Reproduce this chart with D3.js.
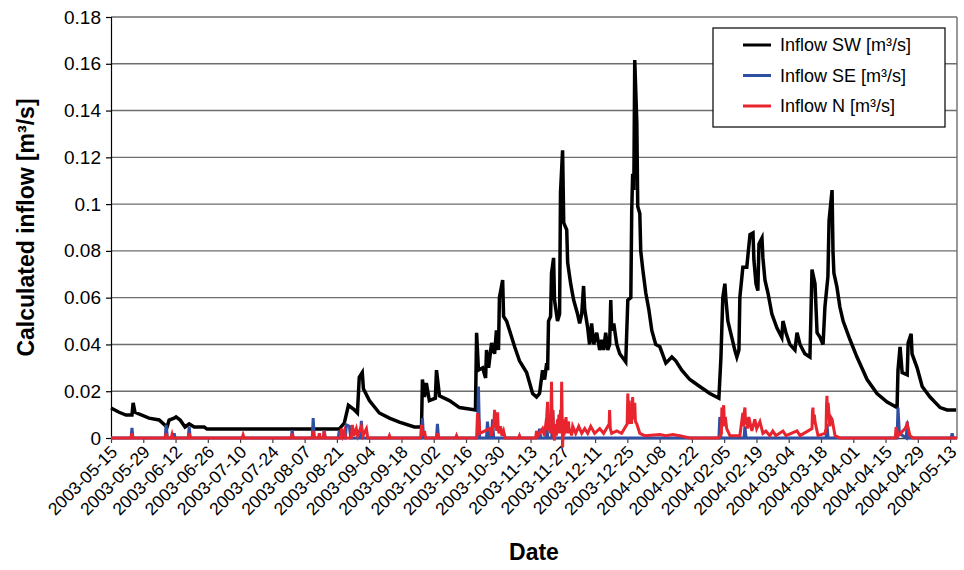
<!DOCTYPE html>
<html>
<head>
<meta charset="utf-8">
<script src="https://cdn.jsdelivr.net/npm/d3@7"></script>
<style>
html,body{margin:0;padding:0;background:#fff;}
svg{display:block;font-family:"Liberation Sans",Arial,sans-serif;}
</style>
</head>
<body>
<svg id="chart" width="964" height="570"></svg>
<script>
// ---- data ----
const startDate = "2003-05-15";
const endDate = "2004-05-16";
const xTickLabels = ["2003-05-15","2003-05-29","2003-06-12","2003-06-26","2003-07-10","2003-07-24","2003-08-07","2003-08-21","2003-09-04","2003-09-18","2003-10-02","2003-10-16","2003-10-30","2003-11-13","2003-11-27","2003-12-11","2003-12-25","2004-01-08","2004-01-22","2004-02-05","2004-02-19","2004-03-04","2004-03-18","2004-04-01","2004-04-15","2004-04-29","2004-05-13"];
const yTicks = [0,0.02,0.04,0.06,0.08,0.1,0.12,0.14,0.16,0.18];
const yTickLabels = ["0","0.02","0.04","0.06","0.08","0.1","0.12","0.14","0.16","0.18"];
const seriesNames = ["Inflow SW [m\u00b3/s]","Inflow SE [m\u00b3/s]","Inflow N [m\u00b3/s]"];

// [days since start, value m3/s]
const inflowSW = [[0,0.0128],[3.5,0.011],[6.5,0.0098],[9.1,0.0098],[9.6,0.015],[10.4,0.011],[16.5,0.0085],[20.9,0.0077],[24.3,0.0047],[25.2,0.0077],[27.4,0.0085],[28.2,0.009],[30,0.0077],[32.1,0.0047],[33.9,0.006],[36.1,0.0047],[40.4,0.0047],[41.7,0.0038],[99,0.0038],[101.2,0.0064],[103,0.014],[105.6,0.012],[106.9,0.0107],[107.7,0.026],[109,0.028],[109.5,0.021],[112.1,0.016],[116.4,0.0107],[120.8,0.0085],[125.1,0.0068],[131.6,0.0047],[134.7,0.0047],[135.1,0.025],[136,0.0175],[136.8,0.0235],[138.1,0.016],[140.7,0.017],[141.2,0.029],[142.5,0.018],[146.8,0.016],[151.2,0.013],[158.1,0.012],[158.6,0.045],[159.4,0.029],[161.2,0.03],[162.5,0.0257],[162.9,0.0376],[163.8,0.03],[165.1,0.0406],[166.4,0.036],[167.2,0.046],[168.1,0.0376],[168.5,0.06],[169.9,0.0675],[170.3,0.052],[171.6,0.05],[172.9,0.046],[175.1,0.039],[177.2,0.033],[180.3,0.028],[182.9,0.019],[184.6,0.0175],[185.9,0.019],[187.2,0.029],[188.1,0.025],[189,0.032],[189.4,0.029],[189.8,0.05],[190.7,0.052],[191.1,0.0705],[192,0.077],[192.4,0.059],[193.7,0.05],[194.6,0.053],[195,0.105],[195.9,0.123],[196.4,0.092],[197.7,0.089],[198.1,0.075],[199.4,0.066],[200.7,0.059],[202.4,0.053],[203.3,0.049],[204.2,0.053],[205,0.065],[205.5,0.055],[206.8,0.047],[207.6,0.04],[208.5,0.049],[209.4,0.04],[210.7,0.045],[212,0.0376],[212.9,0.042],[213.7,0.0376],[214.6,0.045],[215.5,0.0376],[216.3,0.04],[216.8,0.059],[217.2,0.046],[218.1,0.049],[219.4,0.04],[220.7,0.036],[223.3,0.0325],[224.2,0.059],[225.5,0.06],[225.9,0.0975],[226.3,0.113],[226.8,0.106],[227.2,0.1616],[228.1,0.135],[228.5,0.099],[229.4,0.096],[229.8,0.08],[230.7,0.072],[232,0.062],[233.3,0.055],[234.6,0.046],[236.3,0.04],[238.1,0.039],[240.7,0.032],[243.3,0.0346],[245,0.033],[247.6,0.029],[251.1,0.025],[255.4,0.022],[259.8,0.019],[263.7,0.017],[264.6,0.0346],[265.4,0.06],[266.3,0.066],[266.7,0.06],[267.6,0.05],[269.3,0.043],[270.6,0.0376],[271.5,0.0346],[272.4,0.0376],[272.8,0.06],[274.1,0.073],[275.8,0.073],[277.2,0.087],[278.5,0.0877],[278.9,0.076],[279.8,0.066],[280.6,0.063],[281.1,0.083],[282.4,0.0855],[282.8,0.077],[283.7,0.0675],[285,0.062],[286.7,0.053],[288.9,0.047],[291,0.043],[291.5,0.05],[292.8,0.045],[294.5,0.04],[296.7,0.0376],[297.6,0.045],[298.9,0.04],[301,0.036],[303.2,0.0346],[304.1,0.072],[305.4,0.066],[306.3,0.045],[307.6,0.043],[308.9,0.04],[309.7,0.056],[311,0.069],[311.5,0.093],[312.8,0.106],[313.2,0.08],[313.6,0.0705],[314.9,0.0646],[316.2,0.056],[317.6,0.05],[320.6,0.042],[323.6,0.0346],[328,0.025],[332.3,0.019],[336.7,0.0154],[341,0.013],[341.4,0.029],[342.3,0.039],[343.2,0.028],[345.4,0.027],[345.8,0.0406],[347.1,0.0445],[347.5,0.036],[349.7,0.03],[351.9,0.022],[355.3,0.0175],[359.7,0.013],[362.7,0.012],[366.6,0.012]];

const inflowSE = [[0,0],[8.7,0],[9.1,0.0043],[9.5,0],[23.5,0],[23.9,0.0056],[24.5,0],[27,0],[27.4,0.002],[27.8,0],[33.5,0],[33.9,0.0047],[34.4,0],[78.2,0],[78.6,0.0034],[79,0],[87.3,0],[87.7,0.0085],[88.2,0],[92.1,0],[92.5,0.0034],[92.9,0],[98.6,0],[99,0.003],[99.5,0],[101.7,0],[102.1,0.0056],[103.4,0.005],[104,0],[108.2,0],[108.6,0.0073],[109.1,0],[134.7,0],[135.1,0.0085],[135.6,0],[141.2,0],[141.6,0.006],[142.1,0],[159,0],[159.4,0.022],[159.9,0],[162.9,0],[163.3,0.007],[164,0],[165.1,0],[165.5,0.008],[166,0],[185.5,0],[185.9,0.004],[186.4,0],[188.6,0],[189,0.005],[189.5,0],[191.2,0],[191.6,0.012],[192.1,0],[263.7,0],[264.1,0.009],[264.6,0],[274.6,0],[275,0.005],[275.5,0],[310.2,0],[310.6,0.006],[311.1,0],[341,0],[341.4,0.013],[342,0.002],[345,0],[345.4,0.007],[345.9,0],[364.5,0],[364.9,0.002],[365.3,0],[367,0]];

const inflowN = [[0,0],[8.7,0],[9.1,0.002],[9.5,0],[23.5,0],[23.9,0.002],[24.3,0],[26.1,0],[26.5,0.0015],[26.9,0],[33.5,0],[33.9,0.002],[34.3,0],[56.9,0],[57.3,0.0013],[57.7,0],[78.2,0],[78.6,0.002],[79,0],[87.3,0],[87.7,0.003],[88.1,0],[90,0],[90.4,0.002],[90.8,0],[92.1,0],[92.5,0.003],[92.9,0],[99.5,0],[99.9,0.004],[100.5,0.001],[101.2,0.003],[101.8,0],[104.2,0],[104.7,0.0056],[105.3,0.001],[106.4,0.004],[107,0.001],[108.6,0.005],[109.3,0.001],[110.8,0.004],[111.4,0],[120.4,0],[120.8,0.001],[121.2,0],[134.3,0],[134.7,0.0056],[135.3,0.001],[136,0.003],[136.5,0],[141.2,0],[141.6,0.002],[142,0],[149.5,0],[149.9,0.001],[150.3,0],[158.6,0],[159,0.0107],[159.3,0.004],[159.6,0.008],[160,0.002],[164.2,0.004],[165,0.001],[166.1,0.006],[166.4,0.012],[166.7,0.005],[167,0.008],[167.3,0.003],[167.7,0.011],[168,0.004],[168.3,0.002],[169,0.005],[169.6,0.001],[170.3,0.003],[171,0],[176.8,0],[177.2,0.001],[177.6,0],[184.2,0],[184.6,0.003],[185.3,0.001],[187.2,0.004],[188,0.001],[189,0.009],[189.4,0.0155],[189.7,0.003],[190.3,0.006],[190.7,0.002],[191.1,0.024],[191.4,0.004],[191.7,0.012],[192,0.001],[192.4,-0.001],[192.8,0.006],[193.2,0.001],[193.7,0.008],[194,0.003],[194.3,0.01],[194.6,0.002],[195,0.012],[195.3,0.005],[195.5,0.024],[195.9,-0.004],[196.2,0.006],[196.5,0.001],[196.8,0.008],[197.1,0.003],[197.4,0.009],[197.7,0.002],[198.1,0.006],[198.5,0.007],[198.8,0.002],[199.4,0.004],[199.8,0.001],[200.3,0.005],[201.6,0.002],[202.9,0.005],[204.2,0.002],[205.5,0.004],[206.8,0.002],[208.1,0.005],[209.8,0.002],[212,0.004],[213.7,0.002],[216.1,0.006],[216.3,0.012],[216.6,0.004],[217.2,0.002],[219.4,0.003],[221.5,0.002],[223.9,0.006],[224.2,0.019],[224.5,0.006],[224.8,0.016],[225.1,0.007],[225.5,0.014],[225.8,0.006],[226.3,0.0175],[226.6,0.008],[227.2,0.015],[227.5,0.007],[228.1,0.006],[229.4,0.002],[231.5,0.001],[238.1,0.0015],[240.7,0.001],[243.7,0.0015],[246.7,0.001],[251.1,0],[263.7,0],[264.8,0.002],[265,0.013],[265.3,0.006],[265.5,0.012],[265.8,0.014],[266.1,0.005],[266.5,0.009],[267.1,0.004],[268.5,0.001],[272.8,0.001],[274.1,0.0107],[274.4,0.005],[274.7,0.011],[275,0.013],[275.3,0.006],[275.8,0.007],[276.2,0.004],[276.7,0.009],[278,0.003],[279.3,0.008],[280.1,0.004],[281.5,0.007],[282.8,0.002],[284.1,0.003],[285.8,0.001],[287.1,0.003],[288.4,0.001],[291.5,0.003],[292.8,0.001],[297.6,0.003],[298.9,0.001],[304.1,0.004],[304.3,0.011],[304.5,0.013],[304.8,0.006],[305.1,0.01],[305.4,0.007],[306.7,0.001],[309.7,0.002],[310.2,0.004],[310.4,0.014],[310.6,0.018],[310.8,0.008],[311.1,0.015],[311.5,0.01],[311.8,0.005],[312.2,0.009],[312.8,0.008],[314.1,0.001],[316.2,0],[340.2,0],[340.6,0.0047],[341.5,0.001],[344.5,0.004],[345.4,0.006],[346.6,0.001],[347.9,0],[367,0]];

// ---- layout ----
const M = {left:111, right:957, top:17, bottom:438};
const colors = ["#000000","#2f4fa2","#e8242e"];
const widths = [3.5, 3, 3];

const parse = d3.timeParse("%Y-%m-%d");
const t0 = parse(startDate);
const toDate = d => new Date(t0.getTime() + d*86400000);

const x = d3.scaleTime().domain([t0, parse(endDate)]).range([M.left, M.right]);
const y = d3.scaleLinear().domain([0, 0.18]).range([M.bottom, M.top]);

const svg = d3.select("#chart");

// gridlines
svg.append("g").selectAll("line").data(yTicks.filter(v=>v>0)).join("line")
  .attr("x1", M.left).attr("x2", M.right)
  .attr("y1", d=>y(d)).attr("y2", d=>y(d))
  .attr("stroke", "#6e6e6e").attr("stroke-width", 1.4);

// right border
svg.append("line").attr("x1", M.right).attr("x2", M.right)
  .attr("y1", M.top).attr("y2", M.bottom)
  .attr("stroke", "#6e6e6e").attr("stroke-width", 1.4);

// y axis
const yAxis = d3.axisLeft(y).tickValues(yTicks)
  .tickFormat((d,i)=>yTickLabels[i]).tickSize(5).tickPadding(5);
const gy = svg.append("g").attr("transform", `translate(${M.left},0)`).call(yAxis);
gy.select(".domain").attr("stroke","#000").attr("stroke-width",1.2);
gy.selectAll(".tick line").attr("stroke","#000").attr("stroke-width",1.2);
gy.selectAll("text").attr("font-size", 19).attr("fill","#000")
  .attr("font-family","'Liberation Sans',Arial,sans-serif");

// x axis
const xTickDates = xTickLabels.map(parse);
const xAxis = d3.axisBottom(x).tickValues(xTickDates)
  .tickFormat((d,i)=>xTickLabels[i]).tickSize(5).tickSizeOuter(0);
const gx = svg.append("g").attr("transform", `translate(0,${M.bottom})`).call(xAxis);
gx.select(".domain").attr("stroke","#404040").attr("stroke-width",1.5);
gx.selectAll(".tick line").attr("stroke","#404040").attr("stroke-width",1.2);
gx.selectAll("text")
  .attr("font-size", 17.5).attr("fill","#000")
  .attr("font-family","'Liberation Sans',Arial,sans-serif")
  .attr("text-anchor","end")
  .attr("dy", null).attr("y", null)
  .attr("transform","translate(7,15) rotate(-45)");

// series lines
const line = d3.line().x(d=>x(toDate(d[0]))).y(d=>y(d[1]));
const allSeries = [inflowSW, inflowSE, inflowN];
svg.append("g").selectAll("path").data(allSeries).join("path")
  .attr("d", line)
  .attr("fill","none")
  .attr("stroke", (d,i)=>colors[i])
  .attr("stroke-width", (d,i)=>widths[i])
  .attr("stroke-linejoin","miter");

// legend
const lg = svg.append("g").attr("transform","translate(713,28)");
lg.append("rect").attr("width",232).attr("height",99)
  .attr("fill","#fff").attr("stroke","#000").attr("stroke-width",1.2);
const rows = lg.selectAll("g.row").data(seriesNames).join("g")
  .attr("transform",(d,i)=>`translate(0,${17+i*30.5})`);
rows.append("line").attr("x1",30).attr("x2",58).attr("y1",0).attr("y2",0)
  .attr("stroke",(d,i)=>colors[i]).attr("stroke-width",3);
rows.append("text").attr("x",67).attr("y",0).attr("dy","0.35em")
  .attr("font-size",18).text(d=>d);

// axis titles
svg.append("text")
  .attr("transform",`translate(34,${(M.top+M.bottom)/2}) rotate(-90)`)
  .attr("text-anchor","middle").attr("font-weight","bold").attr("font-size",23)
  .text("Calculated inflow [m\u00b3/s]");
svg.append("text").attr("x",(M.left+M.right)/2).attr("y",560)
  .attr("text-anchor","middle").attr("font-weight","bold").attr("font-size",23)
  .text("Date");
</script>
</body>
</html>
